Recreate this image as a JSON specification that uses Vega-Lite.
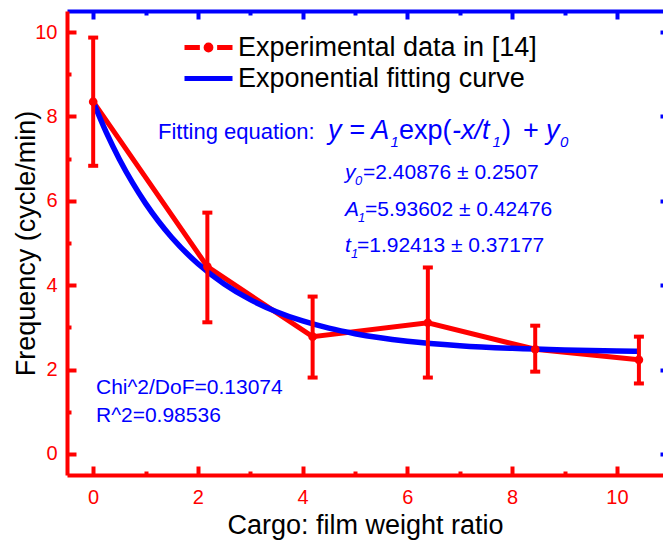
{
  "$schema": "https://vega.github.io/schema/vega-lite/v6.json",
  "autosize": {"type": "none"},
  "padding": {"left": 67, "top": 11, "right": 0, "bottom": 65},
  "width": 596,
  "height": 464,
  "background": "white",
  "config": {"view": {"stroke": null}, "font": "Liberation Sans"},
  "datasets": {
    "exp": [
      {"x": 0, "y": 8.35, "lo": 6.83, "hi": 9.87, "series": "Experimental data in [14]"},
      {"x": 2.18, "y": 4.44, "lo": 3.12, "hi": 5.72, "series": "Experimental data in [14]"},
      {"x": 4.19, "y": 2.78, "lo": 1.81, "hi": 3.73, "series": "Experimental data in [14]"},
      {"x": 6.39, "y": 3.11, "lo": 1.81, "hi": 4.42, "series": "Experimental data in [14]"},
      {"x": 8.44, "y": 2.48, "lo": 1.95, "hi": 3.04, "series": "Experimental data in [14]"},
      {"x": 10.42, "y": 2.23, "lo": 1.67, "hi": 2.78, "series": "Experimental data in [14]"}
    ],
    "fit": [
      {"x": 0, "y": 8.345, "series": "Exponential fitting curve"},
      {"x": 0.25, "y": 7.622, "series": "Exponential fitting curve"},
      {"x": 0.5, "y": 6.986, "series": "Exponential fitting curve"},
      {"x": 0.75, "y": 6.429, "series": "Exponential fitting curve"},
      {"x": 1.0, "y": 5.939, "series": "Exponential fitting curve"},
      {"x": 1.25, "y": 5.509, "series": "Exponential fitting curve"},
      {"x": 1.5, "y": 5.131, "series": "Exponential fitting curve"},
      {"x": 2.0, "y": 4.508, "series": "Exponential fitting curve"},
      {"x": 2.5, "y": 4.028, "series": "Exponential fitting curve"},
      {"x": 3.0, "y": 3.657, "series": "Exponential fitting curve"},
      {"x": 3.5, "y": 3.372, "series": "Exponential fitting curve"},
      {"x": 4.0, "y": 3.151, "series": "Exponential fitting curve"},
      {"x": 4.5, "y": 2.981, "series": "Exponential fitting curve"},
      {"x": 5.0, "y": 2.850, "series": "Exponential fitting curve"},
      {"x": 6.0, "y": 2.671, "series": "Exponential fitting curve"},
      {"x": 7.0, "y": 2.565, "series": "Exponential fitting curve"},
      {"x": 8.0, "y": 2.502, "series": "Exponential fitting curve"},
      {"x": 9.0, "y": 2.464, "series": "Exponential fitting curve"},
      {"x": 10.0, "y": 2.442, "series": "Exponential fitting curve"},
      {"x": 10.4, "y": 2.435, "series": "Exponential fitting curve"}
    ],
    "txtNormal": [
      {"label": "Fitting equation:", "x": 1.237, "y": 7.466}
    ],
    "txtFit": [
      {"label": "Chi^2/DoF=0.13074", "x": 0.053, "y": 1.413},
      {"label": "R^2=0.98536", "x": 0.053, "y": 0.763}
    ],
    "eqItalic": [
      {"label": "y = A", "x": 4.483, "y": 7.466},
      {"label": "-x/t", "x": 6.851, "y": 7.466},
      {"label": "y", "x": 8.646, "y": 7.466}
    ],
    "eqNormal": [
      {"label": "exp(", "x": 5.84, "y": 7.466},
      {"label": ")", "x": 7.806, "y": 7.466},
      {"label": "+", "x": 8.207, "y": 7.466}
    ],
    "eqSub": [
      {"label": "1", "x": 5.676, "y": 7.466},
      {"label": "1", "x": 7.624, "y": 7.466},
      {"label": "0", "x": 8.914, "y": 7.466}
    ],
    "parItalic": [
      {"label": "y", "x": 4.808, "y": 6.517},
      {"label": "A", "x": 4.808, "y": 5.64},
      {"label": "t", "x": 4.808, "y": 4.794}
    ],
    "parSub": [
      {"label": "0", "x": 4.999, "y": 6.517},
      {"label": "1", "x": 5.057, "y": 5.64},
      {"label": "1", "x": 4.923, "y": 4.794}
    ],
    "parVal": [
      {"label": "=2.40876 ± 0.2507", "x": 5.152, "y": 6.517},
      {"label": "=5.93602 ± 0.42476", "x": 5.19, "y": 5.64},
      {"label": "=1.92413 ± 0.37177", "x": 5.037, "y": 4.794}
    ]
  },
  "resolve": {"axis": {"x": "independent", "y": "independent"}},
  "layer": [
    {
      "data": {"name": "exp"},
      "mark": {"type": "line", "strokeWidth": 5},
      "encoding": {
        "x": {
          "field": "x", "type": "quantitative",
          "scale": {"domain": [-0.5, 10.88], "nice": false, "zero": false},
          "axis": {
            "orient": "bottom", "values": [0, 1, 2, 3, 4, 5, 6, 7, 8, 9, 10],
            "labelExpr": "datum.value % 2 == 1 ? '' : datum.label",
            "grid": false, "domainColor": "#ff0000", "domainWidth": 4,
            "tickColor": "#ff0000", "tickWidth": 4,
            "tickSize": {"condition": {"test": "datum.value % 2 == 1", "value": -4}, "value": -9},
            "labelColor": "#ff0000", "labelFontSize": 20, "labelPadding": 21, "labelFont": "Liberation Sans",
            "labelFlush": false, "labelOverlap": false,
            "title": "Cargo: film weight ratio", "titleFont": "Liberation Sans", "titleFontSize": 27,
            "titleFontWeight": "normal", "titleColor": "#000000", "titlePadding": 0
          }
        },
        "y": {
          "field": "y", "type": "quantitative",
          "scale": {"domain": [-0.5, 10.5], "nice": false, "zero": false},
          "axis": {
            "orient": "left", "values": [0, 1, 2, 3, 4, 5, 6, 7, 8, 9, 10],
            "labelExpr": "datum.value % 2 == 1 ? '' : datum.label",
            "grid": false, "domainColor": "#ff0000", "domainWidth": 4,
            "tickColor": "#ff0000", "tickWidth": 4,
            "tickSize": {"condition": {"test": "datum.value % 2 == 1", "value": -4}, "value": -9},
            "labelColor": "#ff0000", "labelFontSize": 20, "labelPadding": 19, "labelFont": "Liberation Sans",
            "labelFlush": false, "labelOverlap": false,
            "title": "Frequency (cycle/min)", "titleFont": "Liberation Sans", "titleFontSize": 27,
            "titleFontWeight": "normal", "titleColor": "#000000", "titlePadding": -6
          }
        },
        "color": {
          "field": "series", "type": "nominal",
          "scale": {"domain": ["Experimental data in [14]", "Exponential fitting curve"], "range": ["#ff0000", "#0000ff"]},
          "legend": {
            "title": null, "orient": "none", "legendX": 115, "legendY": 21,
            "symbolSize": 2304, "symbolStrokeWidth": 5, "clipHeight": 31,
            "labelFontSize": 27, "labelFont": "Liberation Sans", "labelColor": "#000000",
            "labelOffset": 3, "rowPadding": 0, "labelLimit": 0,
            "encode": {"symbols": {"update": {
              "shape": {"signal": "datum.value == 'Experimental data in [14]' ? 'M-1,0H-0.36M0.36,0H1M-0.1,0A0.1,0.1,0,1,1,0.1,0A0.1,0.1,0,1,1,-0.1,0Z' : 'M-1,0H1'"},
              "fill": {"scale": "color", "field": "value"}
            }}}
          }
        }
      }
    },
    {
      "data": {"name": "fit"},
      "mark": {"type": "line", "strokeWidth": 5.5, "interpolate": "monotone"},
      "encoding": {
        "x": {
          "field": "x", "type": "quantitative",
          "axis": {
            "orient": "top", "values": [0, 1, 2, 3, 4, 5, 6, 7, 8, 9, 10],
            "labels": false, "grid": false, "domainColor": "#0000ff", "domainWidth": 4,
            "tickColor": "#0000ff", "tickWidth": 4,
            "tickSize": {"condition": {"test": "datum.value % 2 == 1", "value": -4}, "value": -8},
            "title": null
          }
        },
        "y": {
          "field": "y", "type": "quantitative",
          "axis": {
            "orient": "right", "values": [0, 2, 4, 6, 8, 10],
            "labels": false, "grid": false, "domain": false,
            "tickColor": "#0000ff", "tickWidth": 4, "tickSize": -3, "title": null
          }
        },
        "color": {
          "field": "series", "type": "nominal",
          "legend": {
            "title": null, "orient": "none", "legendX": 115, "legendY": 21,
            "symbolSize": 2304, "symbolStrokeWidth": 5, "clipHeight": 31,
            "labelFontSize": 27, "labelFont": "Liberation Sans", "labelColor": "#000000",
            "labelOffset": 3, "rowPadding": 0, "labelLimit": 0,
            "encode": {"symbols": {"update": {
              "shape": {"signal": "datum.value == 'Experimental data in [14]' ? 'M-1,0H-0.36M0.36,0H1M-0.1,0A0.1,0.1,0,1,1,0.1,0A0.1,0.1,0,1,1,-0.1,0Z' : 'M-1,0H1'"},
              "fill": {"scale": "color", "field": "value"}
            }}}
          }
        }
      }
    },
    {
      "data": {"name": "exp"},
      "mark": {"type": "rule", "strokeWidth": 4, "color": "#ff0000"},
      "encoding": {
        "x": {"field": "x", "type": "quantitative", "axis": null},
        "y": {"field": "lo", "type": "quantitative", "axis": null},
        "y2": {"field": "hi"}
      }
    },
    {
      "data": {"name": "exp"},
      "mark": {"type": "tick", "orient": "horizontal", "size": 10, "thickness": 4, "color": "#ff0000", "opacity": 1},
      "encoding": {
        "x": {"field": "x", "type": "quantitative", "axis": null},
        "y": {"field": "hi", "type": "quantitative", "axis": null}
      }
    },
    {
      "data": {"name": "exp"},
      "mark": {"type": "tick", "orient": "horizontal", "size": 10, "thickness": 4, "color": "#ff0000", "opacity": 1},
      "encoding": {
        "x": {"field": "x", "type": "quantitative", "axis": null},
        "y": {"field": "lo", "type": "quantitative", "axis": null}
      }
    },
    {
      "data": {"name": "exp"},
      "mark": {"type": "point", "filled": true, "size": 75, "color": "#ff0000", "opacity": 1},
      "encoding": {
        "x": {"field": "x", "type": "quantitative", "axis": null},
        "y": {"field": "y", "type": "quantitative", "axis": null}
      }
    },
    {
      "data": {"name": "txtNormal"},
      "mark": {"type": "text", "align": "left", "baseline": "alphabetic", "fontSize": 22, "color": "#0000ff", "font": "Liberation Sans"},
      "encoding": {
        "x": {"field": "x", "type": "quantitative", "axis": null},
        "y": {"field": "y", "type": "quantitative", "axis": null},
        "text": {"field": "label"}
      }
    },
    {
      "data": {"name": "txtFit"},
      "mark": {"type": "text", "align": "left", "baseline": "alphabetic", "fontSize": 21, "color": "#0000ff", "font": "Liberation Sans"},
      "encoding": {
        "x": {"field": "x", "type": "quantitative", "axis": null},
        "y": {"field": "y", "type": "quantitative", "axis": null},
        "text": {"field": "label"}
      }
    },
    {
      "data": {"name": "eqItalic"},
      "mark": {"type": "text", "align": "left", "baseline": "alphabetic", "fontSize": 27, "fontStyle": "italic", "color": "#0000ff", "font": "Liberation Sans"},
      "encoding": {
        "x": {"field": "x", "type": "quantitative", "axis": null},
        "y": {"field": "y", "type": "quantitative", "axis": null},
        "text": {"field": "label"}
      }
    },
    {
      "data": {"name": "eqNormal"},
      "mark": {"type": "text", "align": "left", "baseline": "alphabetic", "fontSize": 27, "color": "#0000ff", "font": "Liberation Sans"},
      "encoding": {
        "x": {"field": "x", "type": "quantitative", "axis": null},
        "y": {"field": "y", "type": "quantitative", "axis": null},
        "text": {"field": "label"}
      }
    },
    {
      "data": {"name": "eqSub"},
      "mark": {"type": "text", "align": "left", "baseline": "alphabetic", "fontSize": 15, "fontStyle": "italic", "dy": 8, "color": "#0000ff", "font": "Liberation Sans"},
      "encoding": {
        "x": {"field": "x", "type": "quantitative", "axis": null},
        "y": {"field": "y", "type": "quantitative", "axis": null},
        "text": {"field": "label"}
      }
    },
    {
      "data": {"name": "parItalic"},
      "mark": {"type": "text", "align": "left", "baseline": "alphabetic", "fontSize": 21, "fontStyle": "italic", "color": "#0000ff", "font": "Liberation Sans"},
      "encoding": {
        "x": {"field": "x", "type": "quantitative", "axis": null},
        "y": {"field": "y", "type": "quantitative", "axis": null},
        "text": {"field": "label"}
      }
    },
    {
      "data": {"name": "parSub"},
      "mark": {"type": "text", "align": "left", "baseline": "alphabetic", "fontSize": 13, "fontStyle": "italic", "dy": 6, "color": "#0000ff", "font": "Liberation Sans"},
      "encoding": {
        "x": {"field": "x", "type": "quantitative", "axis": null},
        "y": {"field": "y", "type": "quantitative", "axis": null},
        "text": {"field": "label"}
      }
    },
    {
      "data": {"name": "parVal"},
      "mark": {"type": "text", "align": "left", "baseline": "alphabetic", "fontSize": 21, "color": "#0000ff", "font": "Liberation Sans"},
      "encoding": {
        "x": {"field": "x", "type": "quantitative", "axis": null},
        "y": {"field": "y", "type": "quantitative", "axis": null},
        "text": {"field": "label"}
      }
    }
  ]
}
